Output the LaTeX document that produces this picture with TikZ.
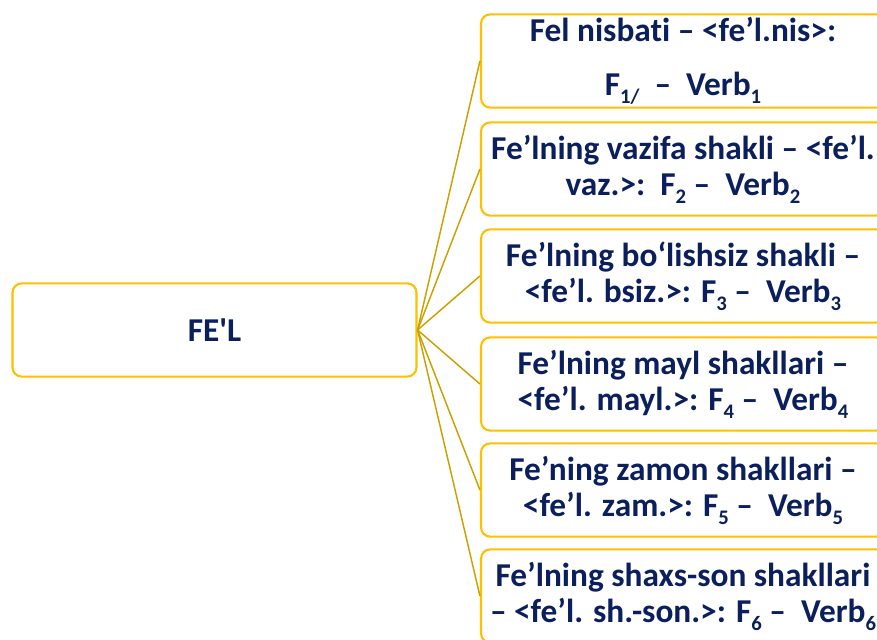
\documentclass[tikz,border=0pt]{standalone}
\usepackage{fontspec}
\newfontfamily\calib{Carlito}[Ligatures=NoCommon]
\definecolor{navy}{HTML}{0A1F5C}
\definecolor{gold}{HTML}{FFC000}
\definecolor{darkgold}{HTML}{C9A100}
\newcommand{\sbs}[1]{\raisebox{-5.5pt}{\fontsize{15.5}{15.5}\selectfont #1}}
\begin{document}
\begin{tikzpicture}[x=0.75pt,y=-0.75pt,
  box/.style={draw=gold,line width=1.6pt,rounded corners=7pt,fill=white,
    minimum width=303pt,minimum height=70pt,inner sep=0pt,align=center,
    text=navy,font=\calib\bfseries\fontsize{25}{27.5}\selectfont},
  link/.style={draw=darkgold,line width=1.1pt}]
\useasboundingbox (0,0) rectangle (877,639);
\clip (0,0) rectangle (877,639);
\node[box] (fel) at (214.5,330) {FE'L};
\node[box] (b1) at (683,61) {Fel nisbati – <fe’l.nis>:\\[13pt]F\sbs{1/}\ \ –\ \ Verb\sbs{1}};
\node[box] (b2) at (683,169) {Fe’lning vazifa shakli – <fe’l.\\vaz.>:\ \ F\sbs{2} –\ \ Verb\sbs{2}};
\node[box] (b3) at (683,276) {Fe’lning bo‘lishsiz shakli –\\<fe’l. bsiz.>: F\sbs{3} –\ \ Verb\sbs{3}};
\node[box] (b4) at (683,384) {Fe’lning mayl shakllari –\\<fe’l. mayl.>: F\sbs{4} –\ \ Verb\sbs{4}};
\node[box] (b5) at (683,490) {Fe’ning zamon shakllari –\\<fe’l. zam.>: F\sbs{5} –\ \ Verb\sbs{5}};
\node[box] (b6) at (683,596) {Fe’lning shaxs-son shakllari\\– <fe’l. sh.-son.>: F\sbs{6} –\ \ Verb\sbs{6}};
\foreach \b in {b1,b2,b3,b4,b5,b6} \draw[link] (fel.east) -- (\b.west);
\end{tikzpicture}
\end{document}
